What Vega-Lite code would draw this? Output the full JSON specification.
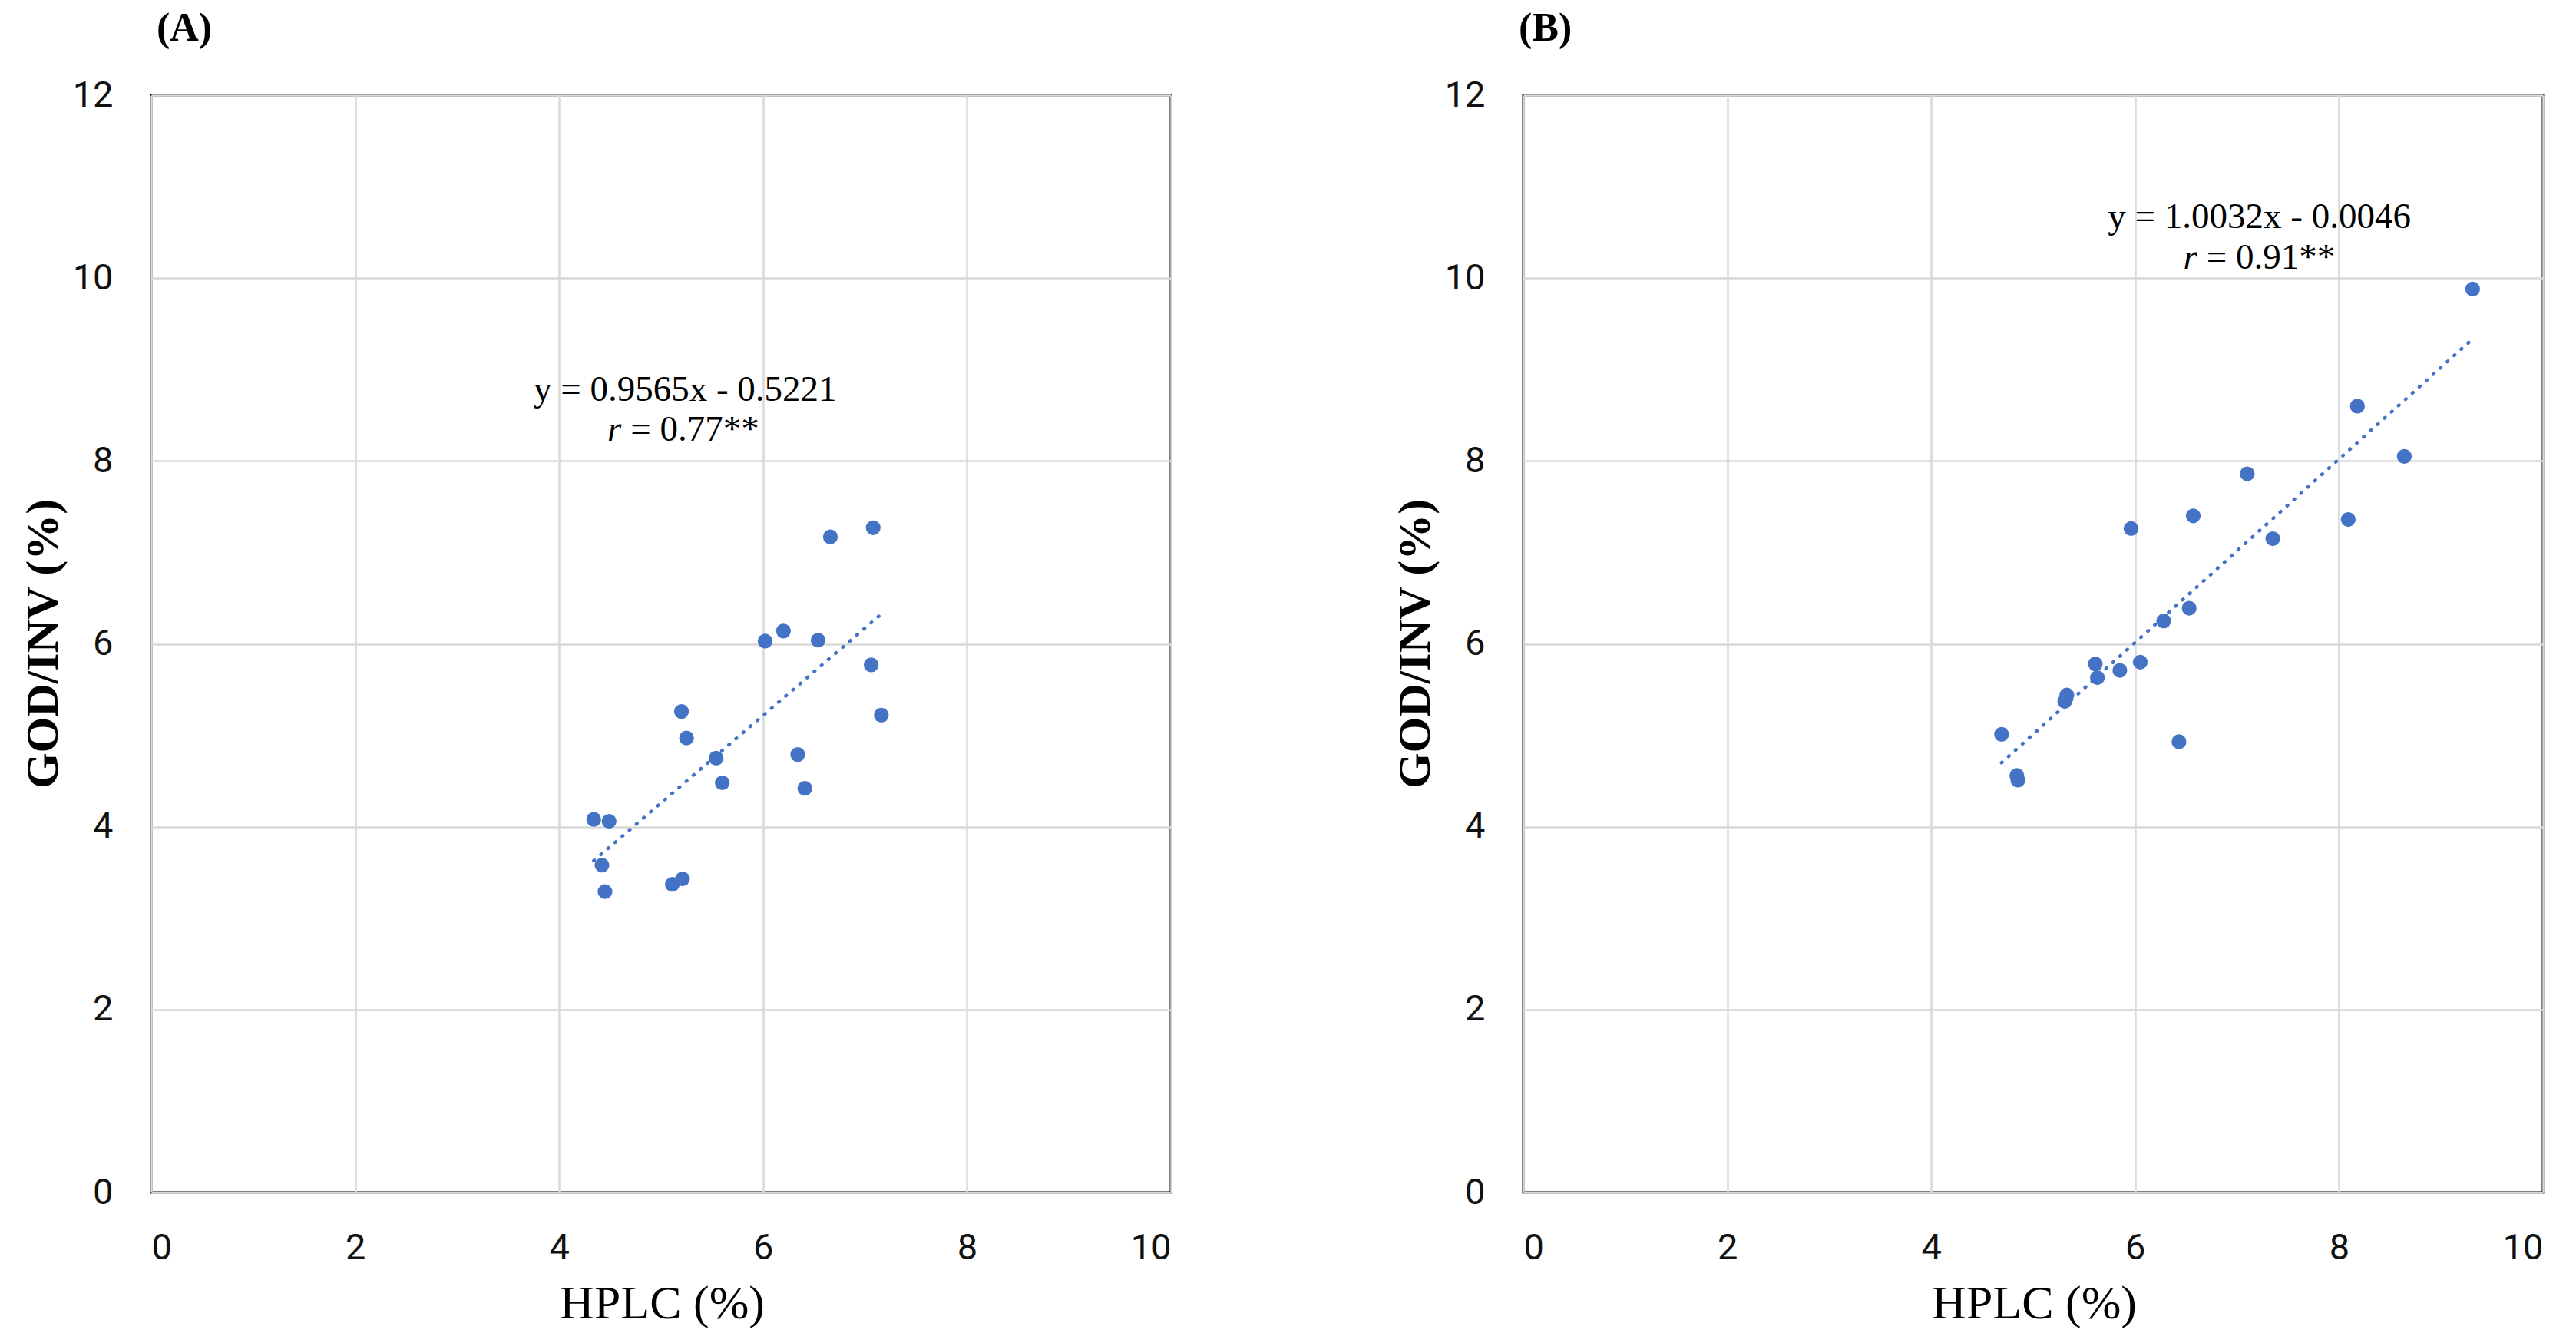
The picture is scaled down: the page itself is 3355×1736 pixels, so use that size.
{
  "$schema": "https://vega.github.io/schema/vega-lite/v6.json",
  "background": "white",
  "padding": {"left": 24, "top": 9, "right": 0, "bottom": 0},
  "config": {
    "view": {"stroke": "#000000", "strokeWidth": 3},
    "axis": {
      "grid": true, "gridColor": "#d9d9d9", "gridWidth": 2.5,
      "domain": false, "ticks": false,
      "labelFont": "Roboto", "labelFontSize": 47, "labelColor": "#111111",
      "titleFont": "Liberation Serif", "titleColor": "#000000"
    },
    "text": {"font": "Liberation Serif", "fontSize": 47, "color": "#000000"}
  },
  "datasets": {
    "ptsA": [
      {"x": 6.66, "y": 7.17}, {"x": 7.08, "y": 7.27}, {"x": 6.02, "y": 6.03}, {"x": 6.20, "y": 6.14},
      {"x": 6.54, "y": 6.04}, {"x": 7.06, "y": 5.77}, {"x": 7.16, "y": 5.22}, {"x": 5.20, "y": 5.26},
      {"x": 5.25, "y": 4.97}, {"x": 5.54, "y": 4.75}, {"x": 5.60, "y": 4.48}, {"x": 6.34, "y": 4.79},
      {"x": 6.41, "y": 4.42}, {"x": 4.34, "y": 4.08}, {"x": 4.49, "y": 4.06}, {"x": 4.42, "y": 3.58},
      {"x": 4.45, "y": 3.29}, {"x": 5.11, "y": 3.37}, {"x": 5.21, "y": 3.43}
    ],
    "ptsB": [
      {"x": 9.31, "y": 9.88}, {"x": 8.18, "y": 8.60}, {"x": 8.64, "y": 8.05}, {"x": 7.10, "y": 7.86},
      {"x": 6.57, "y": 7.40}, {"x": 5.96, "y": 7.26}, {"x": 8.09, "y": 7.36}, {"x": 7.35, "y": 7.15},
      {"x": 6.53, "y": 6.39}, {"x": 6.28, "y": 6.25}, {"x": 6.05, "y": 5.80}, {"x": 5.61, "y": 5.78},
      {"x": 5.85, "y": 5.71}, {"x": 5.63, "y": 5.63}, {"x": 5.33, "y": 5.44}, {"x": 5.31, "y": 5.37},
      {"x": 4.69, "y": 5.01}, {"x": 6.43, "y": 4.93}, {"x": 4.84, "y": 4.56}, {"x": 4.85, "y": 4.51}
    ],
    "lineA": [{"x": 4.34, "y": 3.629}, {"x": 7.16, "y": 6.326}],
    "lineB": [{"x": 4.69, "y": 4.700}, {"x": 9.31, "y": 9.335}],
    "txtA": [
      {"x": 5.235, "y": 8.66, "t": "y = 0.9565x - 0.5221", "k": "eq"},
      {"x": 4.611, "y": 8.22, "t": "r", "k": "r"},
      {"x": 4.611, "y": 8.22, "t": "= 0.77**", "k": "v"}
    ],
    "txtB": [
      {"x": 7.219, "y": 10.55, "t": "y = 1.0032x - 0.0046", "k": "eq"},
      {"x": 6.609, "y": 10.10, "t": "r", "k": "r"},
      {"x": 6.609, "y": 10.10, "t": "= 0.91**", "k": "v"}
    ]
  },
  "spacing": 459,
  "bounds": "flush",
  "hconcat": [
    {
      "title": {"text": "(A)", "anchor": "start", "frame": "group", "font": "Liberation Serif", "fontSize": 52, "fontWeight": "bold", "color": "#000000", "baseline": "alphabetic", "offset": -5, "dx": 7},
      "width": 1328, "height": 1429,
      "layer": [
        {
          "data": {"name": "ptsA"},
          "mark": {"type": "circle", "size": 370, "color": "#4472C4", "opacity": 1},
          "encoding": {
            "x": {"field": "x", "type": "quantitative", "scale": {"domain": [0, 10], "nice": false},
                  "axis": {"title": "HPLC (%)", "values": [0, 2, 4, 6, 8, 10], "format": "d", "labelPadding": 49, "titleFontSize": 62, "titleFontWeight": "normal", "titleX": 665, "titleY": 163, "titleBaseline": "alphabetic", "titleAlign": "center"}},
            "y": {"field": "y", "type": "quantitative", "scale": {"domain": [0, 12], "nice": false},
                  "axis": {"title": "GOD/INV (%)", "values": [0, 2, 4, 6, 8, 10, 12], "format": "d", "labelPadding": 50, "titleFontSize": 60, "titleFontWeight": "bold", "titleX": -123, "titleY": 714, "titleBaseline": "alphabetic", "titleAlign": "center", "titleAngle": -90}}
          }
        },
        {
          "data": {"name": "lineA"},
          "mark": {"type": "line", "color": "#4472C4", "strokeWidth": 4.5, "strokeDash": [1, 11.2], "strokeCap": "round"},
          "encoding": {"x": {"field": "x", "type": "quantitative"}, "y": {"field": "y", "type": "quantitative"}}
        },
        {
          "data": {"name": "txtA"},
          "transform": [{"filter": "datum.k == 'eq'"}],
          "mark": {"type": "text", "align": "center", "baseline": "alphabetic"},
          "encoding": {"x": {"field": "x", "type": "quantitative"}, "y": {"field": "y", "type": "quantitative"}, "text": {"field": "t"}}
        },
        {
          "data": {"name": "txtA"},
          "transform": [{"filter": "datum.k == 'r'"}],
          "mark": {"type": "text", "align": "right", "baseline": "alphabetic", "fontStyle": "italic"},
          "encoding": {"x": {"field": "x", "type": "quantitative"}, "y": {"field": "y", "type": "quantitative"}, "text": {"field": "t"}}
        },
        {
          "data": {"name": "txtA"},
          "transform": [{"filter": "datum.k == 'v'"}],
          "mark": {"type": "text", "align": "left", "baseline": "alphabetic", "dx": 12},
          "encoding": {"x": {"field": "x", "type": "quantitative"}, "y": {"field": "y", "type": "quantitative"}, "text": {"field": "t"}}
        }
      ]
    },
    {
      "title": {"text": "(B)", "anchor": "start", "frame": "group", "font": "Liberation Serif", "fontSize": 52, "fontWeight": "bold", "color": "#000000", "baseline": "alphabetic", "offset": -5, "dx": -6},
      "width": 1328, "height": 1429,
      "layer": [
        {
          "data": {"name": "ptsB"},
          "mark": {"type": "circle", "size": 370, "color": "#4472C4", "opacity": 1},
          "encoding": {
            "x": {"field": "x", "type": "quantitative", "scale": {"domain": [0, 10], "nice": false},
                  "axis": {"title": "HPLC (%)", "values": [0, 2, 4, 6, 8, 10], "format": "d", "labelPadding": 49, "titleFontSize": 62, "titleFontWeight": "normal", "titleX": 665, "titleY": 163, "titleBaseline": "alphabetic", "titleAlign": "center"}},
            "y": {"field": "y", "type": "quantitative", "scale": {"domain": [0, 12], "nice": false},
                  "axis": {"title": "GOD/INV (%)", "values": [0, 2, 4, 6, 8, 10, 12], "format": "d", "labelPadding": 50, "titleFontSize": 60, "titleFontWeight": "bold", "titleX": -123, "titleY": 714, "titleBaseline": "alphabetic", "titleAlign": "center", "titleAngle": -90}}
          }
        },
        {
          "data": {"name": "lineB"},
          "mark": {"type": "line", "color": "#4472C4", "strokeWidth": 4.5, "strokeDash": [1, 11.2], "strokeCap": "round"},
          "encoding": {"x": {"field": "x", "type": "quantitative"}, "y": {"field": "y", "type": "quantitative"}}
        },
        {
          "data": {"name": "txtB"},
          "transform": [{"filter": "datum.k == 'eq'"}],
          "mark": {"type": "text", "align": "center", "baseline": "alphabetic"},
          "encoding": {"x": {"field": "x", "type": "quantitative"}, "y": {"field": "y", "type": "quantitative"}, "text": {"field": "t"}}
        },
        {
          "data": {"name": "txtB"},
          "transform": [{"filter": "datum.k == 'r'"}],
          "mark": {"type": "text", "align": "right", "baseline": "alphabetic", "fontStyle": "italic"},
          "encoding": {"x": {"field": "x", "type": "quantitative"}, "y": {"field": "y", "type": "quantitative"}, "text": {"field": "t"}}
        },
        {
          "data": {"name": "txtB"},
          "transform": [{"filter": "datum.k == 'v'"}],
          "mark": {"type": "text", "align": "left", "baseline": "alphabetic", "dx": 12},
          "encoding": {"x": {"field": "x", "type": "quantitative"}, "y": {"field": "y", "type": "quantitative"}, "text": {"field": "t"}}
        }
      ]
    }
  ]
}
